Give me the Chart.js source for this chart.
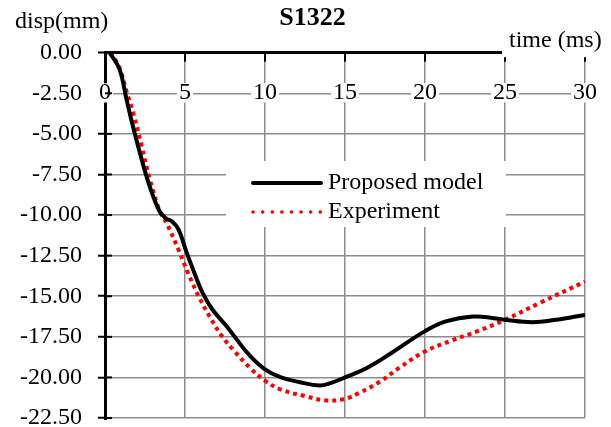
<!DOCTYPE html>
<html>
<head>
<meta charset="utf-8">
<script src="https://cdn.jsdelivr.net/npm/chart.js@4.4.1/dist/chart.umd.min.js"></script>
<style>
  html, body { margin: 0; padding: 0; background: #fff; }
  canvas { display: block; }
</style>
</head>
<body>
<canvas id="chart" width="611" height="427"></canvas>
<script>
// values: time (ms) / displacement (mm)
const modelTime = [0.3, 0.9, 1.35, 1.8, 2.3, 2.8, 3.4, 3.8, 4.2, 4.6, 5.1, 5.6, 6.1, 6.7, 7.6, 8.3, 9.0, 10.0, 11.0, 12.2, 13.4, 14.1, 15.0, 16.4, 17.9, 20.0, 21.3, 23.0, 24.3, 25.0, 26.7, 28.2, 30.0];
const modelDisp = [0, -1.0, -2.9, -4.75, -6.6, -8.25, -9.75, -10.2, -10.4, -10.9, -12.3, -13.6, -14.8, -15.8, -16.85, -17.75, -18.6, -19.5, -20.0, -20.3, -20.5, -20.35, -20.0, -19.4, -18.5, -17.15, -16.55, -16.25, -16.35, -16.45, -16.6, -16.45, -16.15];

const expTime = [0.3, 0.85, 1.35, 1.8, 2.3, 2.8, 3.4, 3.85, 4.6, 5.2, 5.9, 6.6, 7.3, 8.1, 9.05, 10.0, 11.0, 12.5, 13.7, 14.9, 15.9, 17.2, 18.4, 20.0, 21.6, 23.3, 25.0, 27.2, 30.0];
const expDisp = [0, -0.8, -2.4, -3.85, -5.8, -7.8, -9.7, -10.5, -12.15, -13.6, -15.1, -16.35, -17.45, -18.4, -19.4, -20.2, -20.75, -21.15, -21.4, -21.35, -20.95, -20.25, -19.4, -18.4, -17.75, -17.15, -16.45, -15.4, -14.1];

const seriesNames = ['Proposed model', 'Experiment'];
const xTicks = [0, 5, 10, 15, 20, 25, 30];
const yTicks = [0, -2.5, -5, -7.5, -10, -12.5, -15, -17.5, -20, -22.5];

const SERIF = "'Liberation Serif', 'Times New Roman', serif";
const GRID = '#8c8c8c';

Chart.defaults.font.family = SERIF;
Chart.defaults.color = '#000';

function toPoints(xs, ys) {
    return xs.map((x, i) => ({ x: x, y: ys[i] }));
}

function noEdgePadding(s) {
    s.paddingTop = 0;
    s.paddingBottom = 0;
    s.paddingLeft = 0;
    s.paddingRight = 0;
}

// title, axis labels, inner tick marks and the legend box
const decor = {
    id: 'decor',
    afterDraw(chart) {
        const ctx = chart.ctx;
        const area = chart.chartArea;
        const x = chart.scales.x;
        const y = chart.scales.y;
        ctx.save();

        ctx.strokeStyle = '#000';
        ctx.lineWidth = 2;
        x.ticks.forEach(t => {
            const px = x.getPixelForValue(t.value);
            ctx.beginPath();
            ctx.moveTo(px, area.top);
            ctx.lineTo(px, area.top + 9);
            ctx.stroke();
        });
        y.ticks.forEach(t => {
            if (t.value === 0) return;
            const py = y.getPixelForValue(t.value);
            ctx.beginPath();
            ctx.moveTo(area.left, py);
            ctx.lineTo(area.left + 7, py);
            ctx.stroke();
        });

        // "time (ms)" sits on a white box that hides the end of the top axis
        ctx.fillStyle = '#fff';
        ctx.fillRect(502, 24, 109, area.top + 4.5 - 24);
        ctx.fillStyle = '#000';
        ctx.textBaseline = 'middle';
        ctx.textAlign = 'center';
        ctx.font = 'bold 26px ' + SERIF;
        ctx.fillText('S1322', 312.5, 18);
        ctx.font = '24px ' + SERIF;
        ctx.textAlign = 'left';
        ctx.fillText('time (ms)', 509, 41);
        ctx.fillText('disp(mm)', 15, 22);

        // legend
        ctx.fillStyle = '#fff';
        ctx.fillRect(226, 161, 280, 66);
        const ds = chart.data.datasets;
        const rows = [183, 212];
        ds.forEach((d, i) => {
            ctx.save();
            ctx.strokeStyle = d.borderColor;
            ctx.lineCap = 'round';
            if (d.borderDash && d.borderDash.length) {
                ctx.lineWidth = 3.5;
                ctx.setLineDash([0.1, 9.5]);
            } else {
                ctx.lineWidth = d.borderWidth;
            }
            ctx.beginPath();
            ctx.moveTo(253, rows[i]);
            ctx.lineTo(321, rows[i]);
            ctx.stroke();
            ctx.restore();
            ctx.fillStyle = '#000';
            ctx.fillText(d.label, 328, rows[i]);
        });

        ctx.restore();
    }
};

new Chart(document.getElementById('chart'), {
    type: 'line',
    data: {
        datasets: [{
            label: seriesNames[0],
            data: toPoints(modelTime, modelDisp),
            borderColor: '#000',
            borderWidth: 4,
            pointRadius: 0,
            tension: 0.4,
            fill: false
        }, {
            label: seriesNames[1],
            data: toPoints(expTime, expDisp),
            borderColor: '#ff0000',
            borderWidth: 4,
            borderDash: [4, 4],
            pointRadius: 0,
            tension: 0.4,
            fill: false
        }]
    },
    options: {
        responsive: false,
        animation: false,
        devicePixelRatio: 1,
        layout: { padding: { left: 15, right: 26, top: 52.7, bottom: 9 } },
        plugins: {
            legend: { display: false },
            tooltip: { enabled: false },
            title: { display: false }
        },
        scales: {
            x: {
                type: 'linear',
                position: { y: -2.5 },
                min: 0,
                max: 30,
                afterFit: s => { s.height = 0; noEdgePadding(s); },
                afterBuildTicks: s => { s.ticks = xTicks.map(v => ({ value: v })); },
                border: { display: false },
                grid: { color: GRID, lineWidth: 1.5, drawTicks: false },
                ticks: {
                    z: 1,
                    font: { size: 24, lineHeight: 0.8 },
                    color: '#000',
                    padding: -10,
                    maxRotation: 0,
                    showLabelBackdrop: true,
                    backdropColor: '#fff',
                    backdropPadding: { x: 2, y: 0 }
                }
            },
            y: {
                position: 'left',
                min: -22.5,
                max: 0,
                afterFit: s => { s.width = 90; noEdgePadding(s); },
                afterBuildTicks: s => { s.ticks = yTicks.map(v => ({ value: v })); },
                border: { color: '#000', width: 3 },
                grid: {
                    color: c => (c.tick && c.tick.value === 0 ? '#000' : GRID),
                    lineWidth: c => (c.tick && c.tick.value === 0 ? 3 : 1.5),
                    tickColor: '#000',
                    tickWidth: 2,
                    tickLength: 7
                },
                ticks: {
                    font: { size: 24, lineHeight: 1 },
                    color: '#000',
                    padding: 16,
                    callback: v => v.toFixed(2)
                }
            }
        }
    },
    plugins: [decor]
});
</script>
</body>
</html>
